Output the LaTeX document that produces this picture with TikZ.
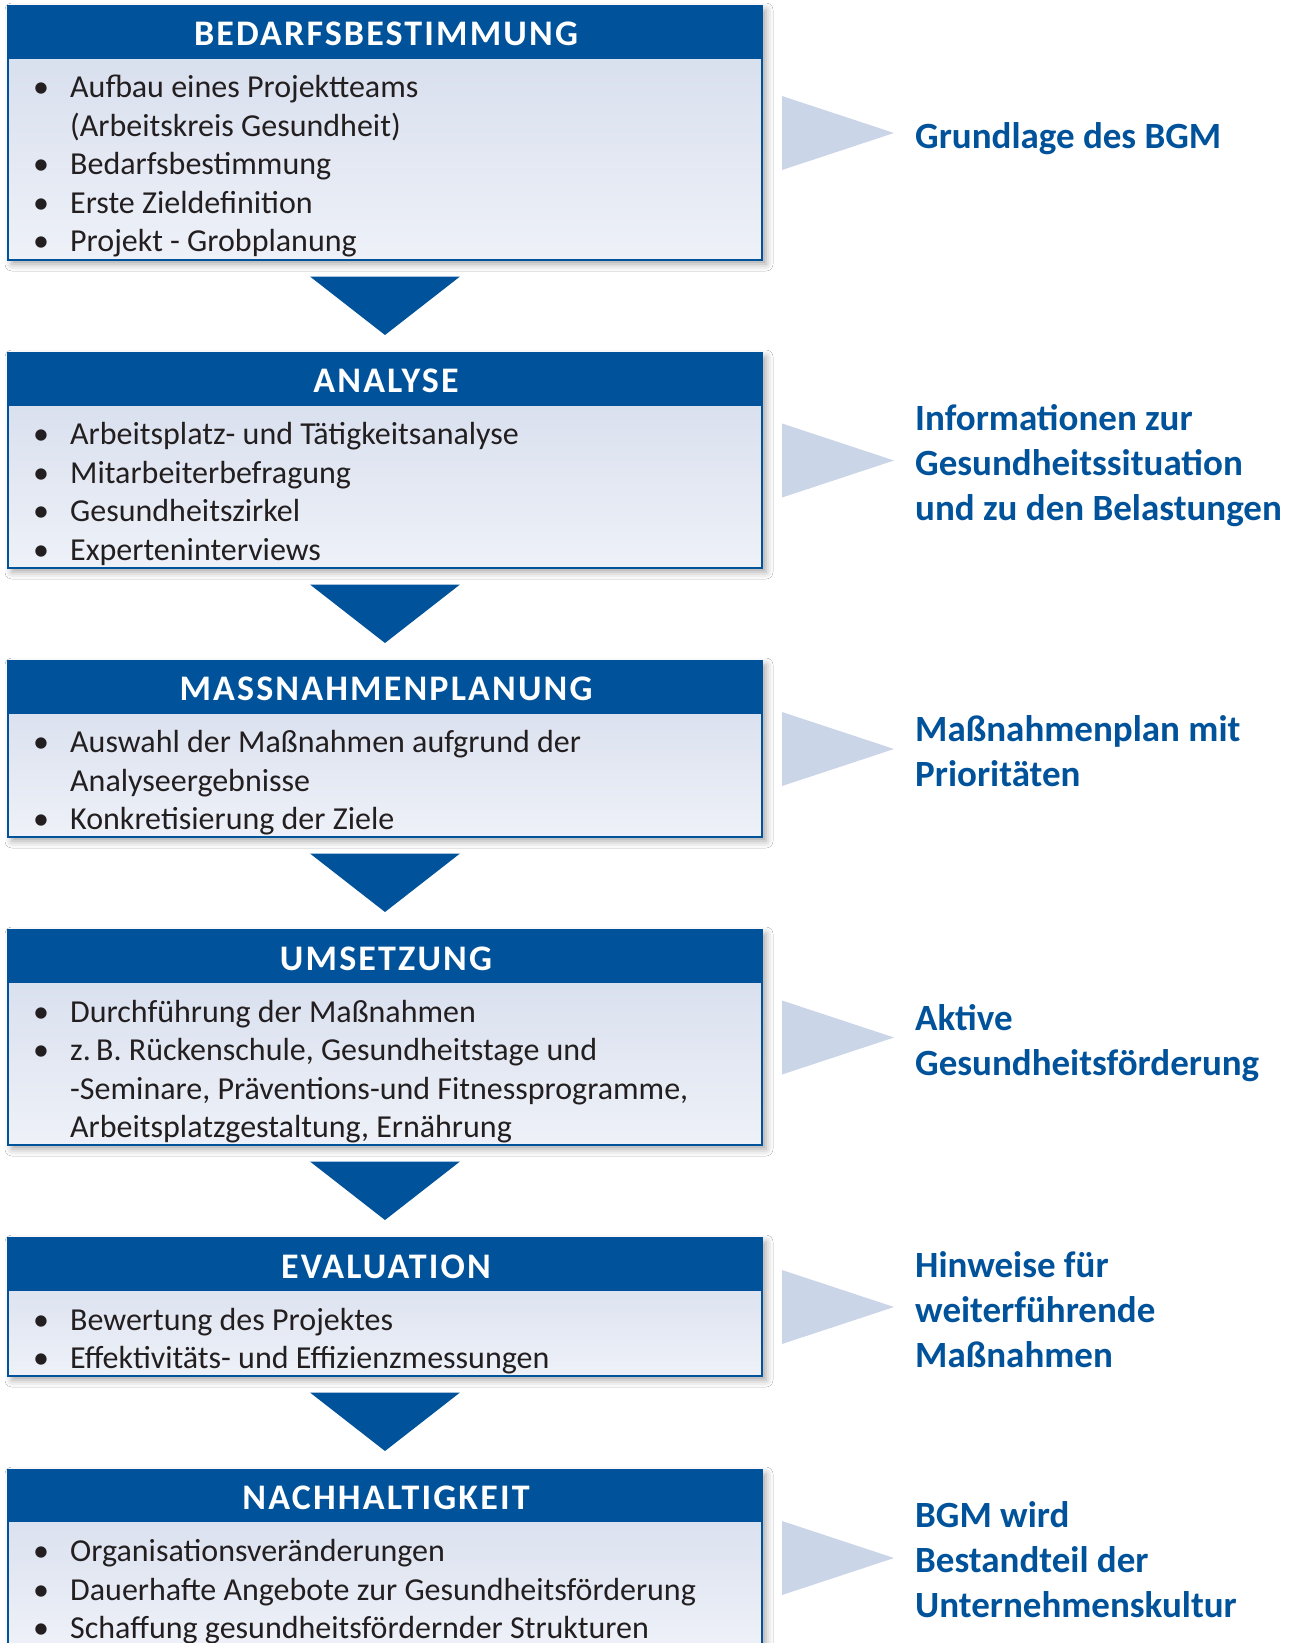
\documentclass[tikz,border=0pt]{standalone}
\usepackage{fontspec}
\setmainfont{Carlito}
\usetikzlibrary{shadows.blur}
\definecolor{hblue}{HTML}{00529A}
\definecolor{tricol}{HTML}{CBD5E8}
\definecolor{gtop}{HTML}{D3DBEB}
\definecolor{gbot}{HTML}{EEF1F8}
\definecolor{txtcol}{HTML}{231F20}
\tikzset{
  headtext/.style={text=white, font=\bfseries\fontsize{36}{42}\selectfont\addfontfeature{LetterSpace=6}, anchor=base, inner sep=0pt},
  bodytext/.style={text=txtcol, font=\fontsize{32}{38.5}\selectfont, anchor=base west, inner sep=0pt},
  rtext/.style={text=hblue, font=\bfseries\fontsize{37}{45}\selectfont, anchor=base west, inner sep=0pt, align=left},
  bodyfill/.style={top color=gtop, bottom color=gbot, blur shadow={shadow xshift=4pt, shadow yshift=-4pt, shadow blur radius=7pt, shadow opacity=35}},
  downarrow/.style={fill=hblue},
  sidetri/.style={fill=tricol}
}
\newcommand\stagebox[5]{% name, top, header bottom, bottom, title
  \path[bodyfill] (8,#2) rectangle (762,#4);
  \fill[hblue] (8,#2) rectangle (762,#3);
  \draw[hblue, line width=2pt] (8,#2) rectangle (762,#4);
  \node[headtext] (#1h) at (386,{(#2+#3)/2+13.5}) {#5};
  \fill[sidetri] (782,{(#2+#4)/2-37}) -- (894,{(#2+#4)/2}) -- (782,{(#2+#4)/2+37}) -- cycle;
}
\newcommand\downtri[1]{%
  \fill[downarrow] (310,#1+16.5) -- (460,#1+16.5) -- (385,#1+75) -- cycle;
}
\newcommand\blist[1]{\begin{tabular}[t]{@{}p{37pt}@{}l@{}}#1\end{tabular}}
\begin{document}
\begin{tikzpicture}[x=1pt,y=-1pt]
\useasboundingbox (0,0) rectangle (1296,1643);
\clip (0,0) rectangle (1296,1643);
\fill[white] (0,0) rectangle (1296,1643);

% Stage 1
\stagebox{s1}{6}{59}{260}{BEDARFSBESTIMMUNG}
\node[bodytext] (s1b) at (33,98) {\blist{%
\textbullet & Aufbau eines Projektteams\\
 & (Arbeitskreis Gesundheit)\\
\textbullet & Bedarfsbestimmung\\
\textbullet & Erste Zieldefinition\\
\textbullet & Projekt - Grobplanung}};
\downtri{260}
\node[rtext] (r1) at (915,148) {Grundlage des BGM};

% Stage 2
\stagebox{s2}{353}{405.5}{568}{ANALYSE}
\node[bodytext] (s2b) at (33,444.5) {\blist{%
\textbullet & Arbeitsplatz- und Tätigkeitsanalyse\\
\textbullet & Mitarbeiterbefragung\\
\textbullet & Gesundheitszirkel\\
\textbullet & Experteninterviews}};
\downtri{568}
\node[rtext] (r2) at (915,520) {Informationen zur\\Gesundheitssituation\\und zu den Belastungen};

% Stage 3
\stagebox{s3}{661}{713.5}{837}{MASSNAHMENPLANUNG}
\node[bodytext] (s3b) at (33,752.8) {\blist{%
\textbullet & Auswahl der Maßnahmen aufgrund der\\
 & Analyseergebnisse\\
\textbullet & Konkretisierung der Ziele}};
\downtri{837}
\node[rtext] (r3) at (915,786) {Maßnahmenplan mit\\Prioritäten};

% Stage 4
\stagebox{s4}{930}{983}{1145}{UMSETZUNG}
\node[bodytext] (s4b) at (33,1022) {\blist{%
\textbullet & Durchführung der Maßnahmen\\
\textbullet & z.\,B. Rückenschule, Gesundheitstage und\\
 & -Seminare, Präventions-und Fitnessprogramme,\\
 & Arbeitsplatzgestaltung, Ernährung}};
\downtri{1145}
\node[rtext] (r4) at (915,1075) {Aktive\\Gesundheitsförderung};

% Stage 5
\stagebox{s5}{1238}{1291}{1376}{EVALUATION}
\node[bodytext] (s5b) at (33,1330) {\blist{%
\textbullet & Bewertung des Projektes\\
\textbullet & Effektivitäts- und Effizienzmessungen}};
\downtri{1376}
\node[rtext] (r5) at (915,1367.6) {Hinweise für\\weiterführende\\Maßnahmen};

% Stage 6
\stagebox{s6}{1470}{1522}{1646}{NACHHALTIGKEIT}
\node[bodytext] (s6b) at (33,1561.6) {\blist{%
\textbullet & Organisationsveränderungen\\
\textbullet & Dauerhafte Angebote zur Gesundheitsförderung\\
\textbullet & Schaffung gesundheitsfördernder Strukturen}};
\node[rtext] (r6) at (915,1617) {BGM wird\\Bestandteil der\\Unternehmenskultur};
\end{tikzpicture}
\end{document}
